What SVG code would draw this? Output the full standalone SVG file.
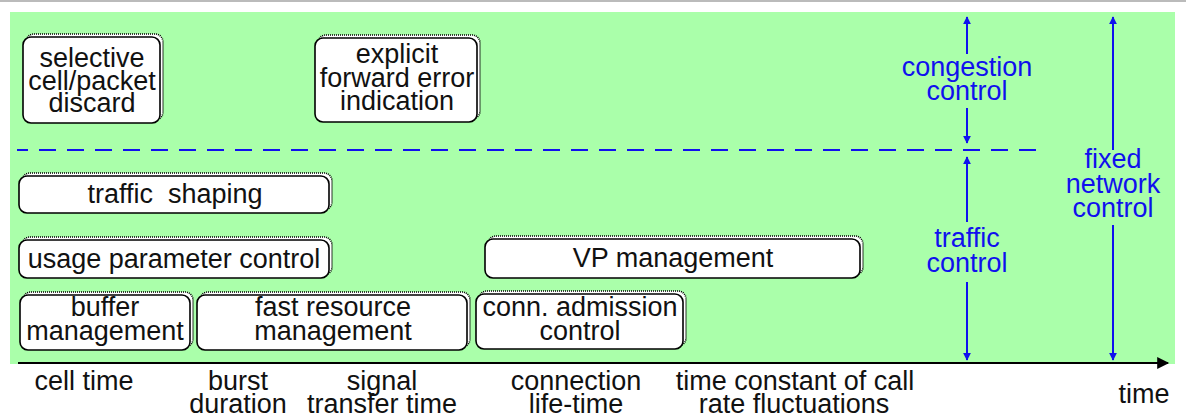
<svg xmlns="http://www.w3.org/2000/svg" width="1186" height="419" viewBox="0 0 1186 419">
  <style>
    .box-back { fill: #ffffff; stroke: #000000; stroke-width: 1.6; stroke-dasharray: 1 1; }
    .box { fill: #ffffff; stroke: #000000; stroke-width: 1.6; }
    .lbl { font-family: "Liberation Sans", Arial, sans-serif; font-size: 27px; fill: #111111; text-anchor: middle; white-space: pre; }
    .ctl { font-family: "Liberation Sans", Arial, sans-serif; font-size: 27px; fill: #1010ee; text-anchor: middle; }
    .span { stroke: #1010ee; stroke-width: 2; fill: none; }
  </style>
  <defs>
    <marker id="blue-head" viewBox="0 0 10 10" refX="9" refY="5" markerWidth="4" markerHeight="4" orient="auto" markerUnits="strokeWidth">
      <path d="M0,0 L10,5 L0,10 z" fill="#1010ee"/>
    </marker>
    <marker id="axis-head" viewBox="0 0 10 10" refX="9" refY="5" markerWidth="9" markerHeight="6" orient="auto" markerUnits="strokeWidth">
      <path d="M0,0 L10,5 L0,10 z" fill="#000000"/>
    </marker>
  </defs>

  <!-- page frame -->
  <rect x="0" y="0" width="1186" height="419" fill="#ffffff"/>
  <line x1="0" y1="1" x2="1186" y2="1" stroke="#bbbbbb" stroke-width="2"/>
  <rect x="10" y="12" width="1165" height="352" fill="#aaffaa"/>

  <!-- boundary between congestion and traffic control -->
  <line x1="17" y1="150" x2="1043" y2="150" stroke="#1010ee" stroke-width="2" stroke-dasharray="17 11" stroke-dashoffset="6"/>

  <g id="connectors">
    <!-- time axis -->
    <line x1="18" y1="363" x2="1168" y2="363" stroke="#000000" stroke-width="2" marker-end="url(#axis-head)"/>
    <!-- congestion control span -->
    <line class="span" x1="967" y1="54" x2="967" y2="17" marker-end="url(#blue-head)"/>
    <line class="span" x1="967" y1="108" x2="967" y2="143" marker-end="url(#blue-head)"/>
    <!-- traffic control span -->
    <line class="span" x1="967" y1="222" x2="967" y2="157" marker-end="url(#blue-head)"/>
    <line class="span" x1="967" y1="282" x2="967" y2="360" marker-end="url(#blue-head)"/>
    <!-- fixed network control span -->
    <line class="span" x1="1113" y1="150" x2="1113" y2="17" marker-end="url(#blue-head)"/>
    <line class="span" x1="1113" y1="225" x2="1113" y2="360" marker-end="url(#blue-head)"/>
  </g>

  <g id="label-congestion-control">
    <text class="ctl" x="967" y="76">congestion</text>
    <text class="ctl" x="967" y="100">control</text>
  </g>
  <g id="label-traffic-control">
    <text class="ctl" x="967" y="247">traffic</text>
    <text class="ctl" x="967" y="272">control</text>
  </g>
  <g id="label-fixed-network-control">
    <text class="ctl" x="1113" y="168">fixed</text>
    <text class="ctl" x="1113" y="193">network</text>
    <text class="ctl" x="1113" y="217">control</text>
  </g>

  <g id="selective-discard">
    <rect class="box-back" x="26" y="34" width="137" height="86" rx="8"/>
    <rect class="box" x="23" y="37" width="137" height="86" rx="8"/>
    <text class="lbl" x="92" y="67">selective</text>
    <text class="lbl" x="92" y="90">cell/packet</text>
    <text class="lbl" x="92" y="112">discard</text>
  </g>

  <g id="explicit-forward-error-indication">
    <rect class="box-back" x="318" y="35" width="162" height="84" rx="8"/>
    <rect class="box" x="315" y="38" width="162" height="84" rx="8"/>
    <text class="lbl" x="397" y="63">explicit</text>
    <text class="lbl" x="397" y="87">forward error</text>
    <text class="lbl" x="397" y="110">indication</text>
  </g>

  <g id="traffic-shaping">
    <rect class="box-back" x="22" y="173" width="310" height="37" rx="8"/>
    <rect class="box" x="19" y="176" width="310" height="37" rx="8"/>
    <text class="lbl" x="175" y="203">traffic  shaping</text>
  </g>

  <g id="usage-parameter-control">
    <rect class="box-back" x="22" y="237" width="310" height="38" rx="8"/>
    <rect class="box" x="19" y="240" width="310" height="38" rx="8"/>
    <text class="lbl" x="174" y="268">usage parameter control</text>
  </g>

  <g id="vp-management">
    <rect class="box-back" x="488" y="236" width="375" height="39" rx="8"/>
    <rect class="box" x="485" y="239" width="375" height="39" rx="8"/>
    <text class="lbl" x="673" y="267">VP management</text>
  </g>

  <g id="buffer-management">
    <rect class="box-back" x="23" y="292" width="170" height="55" rx="8"/>
    <rect class="box" x="20" y="295" width="170" height="55" rx="8"/>
    <text class="lbl" x="105" y="316">buffer</text>
    <text class="lbl" x="105" y="340">management</text>
  </g>

  <g id="fast-resource-management">
    <rect class="box-back" x="200" y="292" width="270" height="55" rx="8"/>
    <rect class="box" x="197" y="295" width="270" height="55" rx="8"/>
    <text class="lbl" x="333" y="316">fast resource</text>
    <text class="lbl" x="333" y="340">management</text>
  </g>

  <g id="conn-admission-control">
    <rect class="box-back" x="479" y="291" width="207" height="55" rx="8"/>
    <rect class="box" x="476" y="294" width="207" height="55" rx="8"/>
    <text class="lbl" x="580" y="316">conn. admission</text>
    <text class="lbl" x="580" y="340">control</text>
  </g>

  <g id="axis-labels">
    <text class="lbl" x="84" y="390">cell time</text>
    <text class="lbl" x="238" y="390">burst</text>
    <text class="lbl" x="238" y="413">duration</text>
    <text class="lbl" x="382" y="390">signal</text>
    <text class="lbl" x="382" y="413">transfer time</text>
    <text class="lbl" x="576" y="390">connection</text>
    <text class="lbl" x="576" y="413">life-time</text>
    <text class="lbl" x="795" y="390">time constant of call</text>
    <text class="lbl" x="794" y="413">rate fluctuations</text>
    <text class="lbl" x="1144" y="403">time</text>
  </g>
</svg>
